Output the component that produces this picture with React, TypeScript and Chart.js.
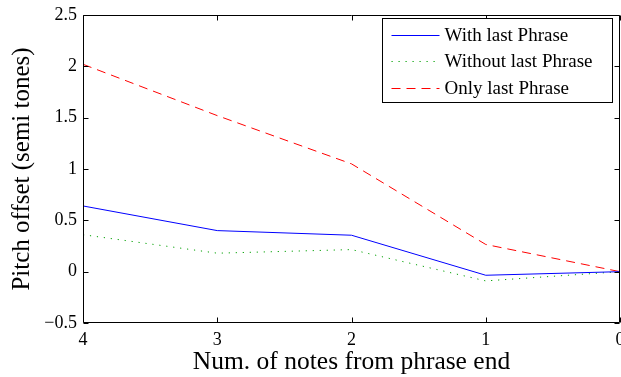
import React, { useEffect, useRef } from "react";
import { Chart, registerables } from "chart.js";

Chart.register(...registerables);

const xValues = [4, 3, 2, 1, 0];
const withLastPhrase = [0.64, 0.4, 0.355, -0.035, 0.0];
const withoutLastPhrase = [0.36, 0.18, 0.215, -0.09, 0.0];
const onlyLastPhrase = [2.02, 1.52, 1.05, 0.265, 0.0];
const seriesLabels = ["With last Phrase", "Without last Phrase", "Only last Phrase"];
const xTitle = "Num. of notes from phrase end";
const yTitle = "Pitch offset (semi tones)";

const FONT = "'Liberation Serif', 'Times New Roman', serif";

const framePlugin = {
  id: "frame",
  afterDraw(chart: any) {
    const { ctx, chartArea, scales } = chart;
    const { left, right, top, bottom } = chartArea;
    ctx.save();
    ctx.strokeStyle = "#000";
    ctx.lineWidth = 1;
    ctx.beginPath();
    const L = Math.round(left) + 0.5;
    const R = Math.round(right) - 0.5;
    const T = Math.round(top) + 0.5;
    const B = Math.round(bottom) - 0.5;
    ctx.rect(L, T, R - L, B - T);
    const tl = 5;
    scales.x.ticks.forEach((t: any) => {
      const x = Math.round(scales.x.getPixelForValue(t.value)) + 0.5;
      ctx.moveTo(x, B);
      ctx.lineTo(x, B - tl);
      ctx.moveTo(x, T);
      ctx.lineTo(x, T + tl);
    });
    scales.y.ticks.forEach((t: any) => {
      const y = Math.round(scales.y.getPixelForValue(t.value)) + 0.5;
      ctx.moveTo(L, y);
      ctx.lineTo(L + tl, y);
      ctx.moveTo(R, y);
      ctx.lineTo(R - tl, y);
    });
    ctx.stroke();

    // legend
    const bw = 230;
    const bh = 84;
    const bx = Math.round(right) - 8 - bw + 0.5;
    const by = Math.round(top) + 3 + 0.5;
    ctx.fillStyle = "#fff";
    ctx.fillRect(bx, by, bw, bh);
    ctx.strokeStyle = "#000";
    ctx.strokeRect(bx, by, bw, bh);
    ctx.font = `19px ${FONT}`;
    ctx.textBaseline = "middle";
    ctx.textAlign = "left";
    chart.data.datasets.forEach((ds: any, i: number) => {
      const y = Math.round(by + 16 + i * 26.5) + 0.5;
      ctx.save();
      ctx.strokeStyle = ds.borderColor;
      ctx.lineWidth = ds.borderWidth;
      ctx.setLineDash(ds.borderDash || []);
      ctx.beginPath();
      ctx.moveTo(bx + 9, y);
      ctx.lineTo(bx + 57, y);
      ctx.stroke();
      ctx.restore();
      ctx.fillStyle = "#000";
      ctx.fillText(ds.label, bx + 62, y + 1);
    });
    ctx.restore();
  },
};

export default function App() {
  const ref = useRef<HTMLCanvasElement>(null);
  useEffect(() => {
    const canvas = ref.current;
    if (!canvas) return;
    const mk = (vals: number[]) => xValues.map((x, i) => ({ x, y: vals[i] }));
    const chart = new Chart(canvas, {
      type: "line",
      data: {
        datasets: [
          {
            label: seriesLabels[0],
            data: mk(withLastPhrase),
            borderColor: "#0000ff",
            borderWidth: 1,
            pointRadius: 0,
            fill: false,
          },
          {
            label: seriesLabels[1],
            data: mk(withoutLastPhrase),
            borderColor: "#00a000",
            borderWidth: 1,
            borderDash: [1.2, 5.8],
            pointRadius: 0,
            fill: false,
          },
          {
            label: seriesLabels[2],
            data: mk(onlyLastPhrase),
            borderColor: "#ff0000",
            borderWidth: 1,
            borderDash: [9, 6],
            pointRadius: 0,
            fill: false,
          },
        ],
      },
      options: {
        responsive: false,
        animation: false,
        layout: { padding: { top: 15, right: 1, left: 0, bottom: 0 } },
        plugins: { legend: { display: false }, tooltip: { enabled: false } },
        scales: {
          x: {
            type: "linear",
            reverse: true,
            min: 0,
            max: 4,
            grid: { display: false, drawTicks: false },
            border: { display: false },
            ticks: {
              stepSize: 1,
              padding: 6,
              color: "#000",
              font: { family: FONT, size: 18 },
              maxRotation: 0,
            },
            title: {
              display: true,
              text: xTitle,
              color: "#000",
              font: { family: FONT, size: 25.5 },
              padding: { top: 0, bottom: -1 },
            },
            afterFit(scale: any) {
              scale.height = 54;
              scale.paddingLeft = 0;
              scale.paddingRight = 0;
            },
          },
          y: {
            type: "linear",
            min: -0.5,
            max: 2.5,
            grid: { display: false, drawTicks: false },
            border: { display: false },
            ticks: {
              stepSize: 0.5,
              padding: 6,
              color: "#000",
              font: { family: FONT, size: 18 },
              callback: (v: any) => (v < 0 ? "\u2212" + Math.abs(v) : String(v)),
            },
            title: {
              display: true,
              text: yTitle,
              color: "#000",
              font: { family: FONT, size: 25 },
              padding: { top: 7, bottom: 0 },
            },
            afterFit(scale: any) {
              scale.width = 83;
              scale.paddingTop = 0;
              scale.paddingBottom = 0;
            },
          },
        },
      },
      plugins: [framePlugin],
    });
    return () => chart.destroy();
  }, []);
  return (
    <div style={{ position: "fixed", left: 0, top: 0, width: 621, height: 377, background: "#fff" }}>
      <canvas ref={ref} width={621} height={377} />
    </div>
  );
}
